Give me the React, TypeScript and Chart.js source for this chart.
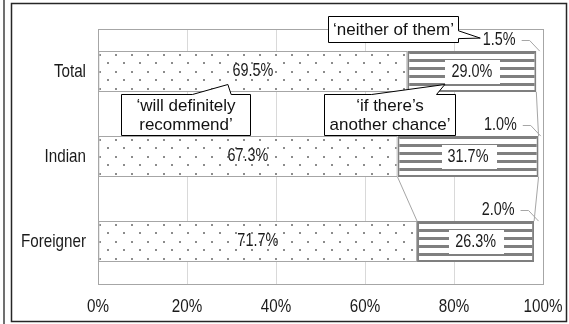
import React, { useEffect, useRef } from 'react';
import { Chart, registerables } from 'chart.js';

Chart.register(...registerables);

// Survey answers, share of respondents (%)
const categories = ['Total', 'Indian', 'Foreigner'];
const definitelyRecommend = [69.5, 67.3, 71.7];
const anotherChance = [29.0, 31.7, 26.3];
const neitherOfThem = [1.5, 1.0, 2.0];
const xTickValues = [0, 20, 40, 60, 80, 100];
const seriesNames = ['‘will definitely recommend’', '‘if there’s another chance’', '‘neither of them’'];

const REGULAR = "'Liberation Sans', Arial, sans-serif";
const SQUEEZE = 0.8; // horizontal squeeze for the condensed axis / value text
const AXIS_SIZE = 19;
const VALUE_SIZE = 18;
const NOTE_SIZE = 17;
const TEXT = '#1a1a1a';
const FRAME_GRAY = '#a6a6a6';

// Callout boxes: centre given in axis units (x = %, y = category index)
const callouts = [
  { lines: ['‘will definitely', 'recommend’'], x: 19.7, y: 0.51, w: 129, h: 41, edge: 'top', base: [0.55, 0.85], anchor: { ds: 0, i: 0, dx: -25, dy: 13 } },
  { lines: ['‘if there’s', 'another chance’'], x: 65.6, y: 0.51, w: 131, h: 41, edge: 'top', base: [0.36, 0.855], anchor: { ds: 1, i: 0, dx: -27, dy: 13 } },
  { lines: ['‘neither of them’'], x: 66.3, y: -0.5, w: 130, h: 26, edge: 'right', base: [0.55, 0.85], anchor: { ds: 2, i: 0, dx: -19, dy: -2 } },
];

function makeDots(): CanvasPattern {
  const c = document.createElement('canvas');
  c.width = 16;
  c.height = 17;
  const g = c.getContext('2d')!;
  g.fillStyle = '#ffffff';
  g.fillRect(0, 0, 16, 17);
  g.fillStyle = '#8c8c8c';
  g.fillRect(3, 3, 2, 2);
  g.fillRect(11, 11, 2, 2);
  return g.createPattern(c, 'repeat')!;
}

function makeStripes(): CanvasPattern {
  const c = document.createElement('canvas');
  c.width = 8;
  c.height = 8;
  const g = c.getContext('2d')!;
  g.fillStyle = '#ffffff';
  g.fillRect(0, 0, 8, 8);
  g.fillStyle = '#7f7f7f';
  g.fillRect(0, 0, 8, 3);
  return g.createPattern(c, 'repeat')!;
}

const fmt = (v: number) => v.toFixed(1) + '%';

function narrowWidth(ctx: CanvasRenderingContext2D, txt: string, size: number) {
  ctx.save();
  ctx.font = `${size}px ${REGULAR}`;
  const w = ctx.measureText(txt).width * SQUEEZE;
  ctx.restore();
  return w;
}

function narrowText(ctx: CanvasRenderingContext2D, txt: string, x: number, y: number, size: number, align: CanvasTextAlign) {
  ctx.save();
  ctx.font = `${size}px ${REGULAR}`;
  ctx.fillStyle = TEXT;
  ctx.textAlign = align;
  ctx.textBaseline = 'middle';
  ctx.translate(x, y);
  ctx.scale(SQUEEZE, 1);
  ctx.fillText(txt, 0, 0);
  ctx.restore();
}

// Where each value label sits
function labelPos(chart: any, ds: number, i: number) {
  const el: any = chart.getDatasetMeta(ds).data[i];
  const left = Math.min(el.base, el.x);
  const right = Math.max(el.base, el.x);
  const cx = (left + right) / 2;
  const top = el.y - el.height / 2;
  if (ds < 2) return { x: cx, y: el.y, segCenter: cx, top, w: 0 };
  const w = narrowWidth(chart.ctx, fmt(chart.data.datasets[ds].data[i]), VALUE_SIZE);
  const rightEdge = cx - 24;
  return { x: rightEdge - w / 2, y: top - 11, segCenter: cx, top, w };
}

const framePlugin = {
  id: 'frame',
  beforeDraw(chart: any) {
    const ctx = chart.ctx;
    ctx.save();
    ctx.fillStyle = '#ffffff';
    ctx.fillRect(0, 0, chart.width, chart.height);
    ctx.strokeStyle = '#404040';
    ctx.lineWidth = 1.5;
    ctx.beginPath();
    ctx.moveTo(4, 0);
    ctx.lineTo(4, chart.height);
    ctx.stroke();
    ctx.strokeStyle = '#262626';
    ctx.strokeRect(11.5, 3.5, 555, 318);
    ctx.restore();
  },
  beforeDatasetsDraw(chart: any) {
    const { ctx, chartArea: a } = chart;
    ctx.save();
    ctx.strokeStyle = FRAME_GRAY;
    ctx.lineWidth = 1;
    ctx.strokeRect(Math.round(a.left) + 0.5, Math.round(a.top) + 0.5, Math.round(a.right - a.left), Math.round(a.bottom - a.top));
    ctx.restore();
    // anchor fill patterns to each bar's own top edge
    [0, 1].forEach((ds) => {
      chart.getDatasetMeta(ds).data.forEach((el: any) => {
        const p = el.options.backgroundColor;
        if (p && typeof p.setTransform === 'function') {
          p.setTransform(new DOMMatrix([1, 0, 0, 1, 0, Math.round(el.y - el.height / 2)]));
        }
      });
    });
  },
};

const labelsPlugin = {
  id: 'valueLabels',
  afterDatasetsDraw(chart: any) {
    const ctx = chart.ctx;
    ctx.save();
    // series lines joining segment boundaries of neighbouring bars
    ctx.strokeStyle = FRAME_GRAY;
    ctx.lineWidth = 1;
    [0, 1].forEach((ds) => {
      const data = chart.getDatasetMeta(ds).data;
      for (let i = 0; i < data.length - 1; i++) {
        const a: any = data[i];
        const b: any = data[i + 1];
        ctx.beginPath();
        ctx.moveTo(a.x, a.y + a.height / 2);
        ctx.lineTo(b.x, b.y - b.height / 2);
        ctx.stroke();
      }
    });

    chart.data.datasets.forEach((dset: any, ds: number) => {
      dset.data.forEach((v: number, i: number) => {
        const p: any = labelPos(chart, ds, i);
        const txt = fmt(v);
        if (ds === 0) {
          narrowText(ctx, txt, p.x, p.y, VALUE_SIZE, 'center');
        } else if (ds === 1) {
          const w = narrowWidth(ctx, txt, VALUE_SIZE);
          ctx.fillStyle = '#ffffff';
          ctx.fillRect(Math.round(p.x - w / 2 - 6), Math.round(p.y - 12), Math.round(w + 14), 24);
          narrowText(ctx, txt, p.x, p.y + 1, VALUE_SIZE, 'center');
        } else {
          narrowText(ctx, txt, p.x, p.y, VALUE_SIZE, 'center');
          const sx = p.x + p.w / 2 + 6;
          ctx.strokeStyle = FRAME_GRAY;
          ctx.beginPath();
          ctx.moveTo(sx, Math.round(p.y) + 0.5);
          ctx.lineTo(sx + 8, Math.round(p.y) + 0.5);
          ctx.lineTo(p.segCenter, p.top);
          ctx.stroke();
        }
      });
    });
    ctx.restore();
  },
};

const axisTextPlugin = {
  id: 'axisText',
  afterDraw(chart: any) {
    const ctx = chart.ctx;
    const xs = chart.scales.x;
    const ys = chart.scales.y;
    xTickValues.forEach((v) => {
      narrowText(ctx, v + '%', xs.getPixelForValue(v), 307, AXIS_SIZE, 'center');
    });
    categories.forEach((c, i) => {
      narrowText(ctx, c, chart.chartArea.left - 12, ys.getPixelForValue(i), AXIS_SIZE, 'right');
    });
  },
};

const calloutPlugin = {
  id: 'callouts',
  afterDraw(chart: any) {
    const ctx = chart.ctx;
    const xs = chart.scales.x;
    const ys = chart.scales.y;
    ctx.save();
    callouts.forEach((c) => {
      const l = Math.round(xs.getPixelForValue(c.x) - c.w / 2) + 0.5;
      const t = Math.round(ys.getPixelForValue(c.y) - c.h / 2) + 0.5;
      const r = l + c.w;
      const b = t + c.h;
      const lp: any = labelPos(chart, c.anchor.ds, c.anchor.i);
      const tip = { x: lp.x + c.anchor.dx, y: lp.y + c.anchor.dy };
      ctx.beginPath();
      if (c.edge === 'top') {
        ctx.moveTo(l, t);
        ctx.lineTo(l + c.w * c.base[0], t);
        ctx.lineTo(tip.x, tip.y);
        ctx.lineTo(l + c.w * c.base[1], t);
        ctx.lineTo(r, t);
        ctx.lineTo(r, b);
        ctx.lineTo(l, b);
      } else {
        ctx.moveTo(l, t);
        ctx.lineTo(r, t);
        ctx.lineTo(r, t + c.h * c.base[0]);
        ctx.lineTo(tip.x, tip.y);
        ctx.lineTo(r, t + c.h * c.base[1]);
        ctx.lineTo(r, b);
        ctx.lineTo(l, b);
      }
      ctx.closePath();
      ctx.fillStyle = '#ffffff';
      ctx.fill();
      ctx.strokeStyle = '#000000';
      ctx.lineWidth = 1;
      ctx.stroke();

      ctx.font = `${NOTE_SIZE}px ${REGULAR}`;
      ctx.fillStyle = '#111111';
      ctx.textAlign = 'center';
      ctx.textBaseline = 'middle';
      const lh = 19;
      const cy = (t + b) / 2 + 0.5;
      c.lines.forEach((line, k) => {
        ctx.fillText(line, (l + r) / 2, cy + (k - (c.lines.length - 1) / 2) * lh);
      });
    });
    ctx.restore();
  },
};

export default function App() {
  const ref = useRef<HTMLCanvasElement>(null);

  useEffect(() => {
    if (!ref.current) return;
    const dots = categories.map(() => makeDots());
    const stripes = categories.map(() => makeStripes());
    const chart = new Chart(ref.current, {
      type: 'bar',
      data: {
        labels: categories,
        datasets: [
          { label: seriesNames[0], data: definitelyRecommend, backgroundColor: dots as any, borderColor: FRAME_GRAY, borderWidth: 1, borderSkipped: false },
          { label: seriesNames[1], data: anotherChance, backgroundColor: stripes as any, borderColor: '#7f7f7f', borderWidth: 2, borderSkipped: false },
          { label: seriesNames[2], data: neitherOfThem, backgroundColor: 'rgba(0,0,0,0)', borderWidth: 0 },
        ],
      },
      options: {
        indexAxis: 'y',
        responsive: false,
        animation: false,
        devicePixelRatio: 1,
        layout: { padding: { top: 29, right: 26, bottom: 0, left: 0 } },
        datasets: { bar: { barPercentage: 0.6, categoryPercentage: 0.8 } },
        plugins: { legend: { display: false }, tooltip: { enabled: false } },
        scales: {
          x: {
            stacked: true,
            min: 0,
            max: 100,
            afterBuildTicks: (s: any) => {
              s.ticks = xTickValues.map((v) => ({ value: v }));
            },
            afterFit: (s: any) => {
              s.height = 40;
            },
            ticks: { display: false },
            grid: {
              drawTicks: false,
              color: (c: any) => (c.tick && (c.tick.value === 0 || c.tick.value === 100) ? FRAME_GRAY : '#d9d9d9'),
              lineWidth: 1,
            },
            border: { display: false },
          },
          y: {
            stacked: true,
            afterFit: (s: any) => {
              s.width = 98;
            },
            ticks: { display: false },
            grid: { display: false, drawTicks: false },
            border: { display: false },
          },
        },
      },
      plugins: [framePlugin, labelsPlugin, axisTextPlugin, calloutPlugin],
    });
    return () => chart.destroy();
  }, []);

  return (
    <div style={{ position: 'fixed', left: 0, top: 0, width: 569, height: 324 }}>
      <canvas ref={ref} width={569} height={324} style={{ width: 569, height: 324, display: 'block' }} />
    </div>
  );
}
